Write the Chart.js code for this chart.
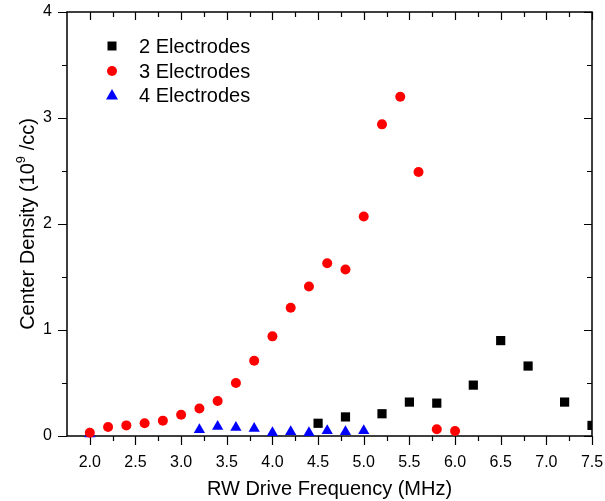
<!DOCTYPE html>
<html>
<head>
<meta charset="UTF-8">
<title>Center density vs RW drive frequency</title>
<script src="https://cdn.jsdelivr.net/npm/chart.js@4.4.1/dist/chart.umd.min.js"></script>
<style>
    body { margin: 0; background: #fff; }
    canvas { display: block; }
</style>
</head>
<body>
<canvas id="densityCanvas" width="605" height="501"></canvas>
<script>
// 2 electrodes
var freq2 = [4.5, 4.8, 5.2, 5.5, 5.8, 6.2, 6.5, 6.8, 7.2, 7.5];
var dens2 = [0.12, 0.18, 0.21, 0.32, 0.31, 0.48, 0.90, 0.66, 0.32, 0.10];
// 3 electrodes
var freq3 = [2.0, 2.2, 2.4, 2.6, 2.8, 3.0, 3.2, 3.4, 3.6, 3.8, 4.0, 4.2, 4.4, 4.6, 4.8, 5.0, 5.2, 5.4, 5.6, 5.8, 6.0];
var dens3 = [0.03, 0.085, 0.10, 0.12, 0.145, 0.20, 0.26, 0.33, 0.50, 0.71, 0.94, 1.21, 1.41, 1.63, 1.57, 2.07, 2.94, 3.20, 2.49, 0.063, 0.047];
// 4 electrodes
var freq4 = [2.0, 3.2, 3.4, 3.6, 3.8, 4.0, 4.2, 4.4, 4.6, 4.8, 5.0];
var dens4 = [0.02, 0.06, 0.09, 0.08, 0.07, 0.03, 0.04, 0.03, 0.05, 0.04, 0.05];

var seriesNames = ['2 Electrodes', '3 Electrodes', '4 Electrodes'];
var xTicks = [2.0, 2.5, 3.0, 3.5, 4.0, 4.5, 5.0, 5.5, 6.0, 6.5, 7.0, 7.5];
var yTicks = [0, 1, 2, 3, 4];

var FONT = 'Arial, "Liberation Sans", sans-serif';

function points(xs, ys) {
    return xs.map(function (x, i) { return { x: x, y: ys[i] }; });
}

// box around the plot with Origin-style tick marks on all four sides
var framePlugin = {
    id: 'frame',
    beforeDatasetsDraw: function (chart) {
        var ctx = chart.ctx, a = chart.chartArea;
        var xs = chart.scales.x, ys = chart.scales.y;
        ctx.save();
        ctx.strokeStyle = '#000';
        ctx.lineWidth = 1.5;
        ctx.strokeRect(a.left, a.top, a.right - a.left, a.bottom - a.top);
        ctx.lineWidth = 1.2;
        ctx.beginPath();
        for (var v = 2.0; v <= 7.5001; v += 0.25) {
            var px = Math.round(xs.getPixelForValue(v)) + 0.5;
            var major = Math.abs(v * 2 - Math.round(v * 2)) < 1e-6;
            var out = major ? 9 : 5, inn = major ? 8 : 5;
            ctx.moveTo(px, a.bottom); ctx.lineTo(px, a.bottom + out);
            ctx.moveTo(px, a.top); ctx.lineTo(px, a.top + inn);
        }
        for (var w = 0; w <= 4.0001; w += 0.5) {
            var py = Math.round(ys.getPixelForValue(w)) + 0.5;
            var maj = Math.abs(w - Math.round(w)) < 1e-6;
            ctx.moveTo(a.left, py); ctx.lineTo(a.left - (maj ? 9 : 5), py);
            ctx.moveTo(a.right, py); ctx.lineTo(a.right - (maj ? 8 : 5), py);
        }
        ctx.stroke();
        ctx.restore();
    },
    afterDraw: function (chart) {
        var ctx = chart.ctx, a = chart.chartArea;
        ctx.save();
        ctx.fillStyle = '#000';

        // x axis title
        ctx.font = '20px ' + FONT;
        ctx.textAlign = 'center';
        ctx.textBaseline = 'middle';
        ctx.fillText('RW Drive Frequency (MHz)', (a.left + a.right) / 2, 489);

        // y axis title with superscript exponent
        var p1 = 'Center Density (10', sup = '9', p2 = ' /cc)';
        ctx.translate(28, (a.top + a.bottom) / 2);
        ctx.rotate(-Math.PI / 2);
        ctx.textAlign = 'left';
        ctx.font = '20px ' + FONT;
        var w1 = ctx.measureText(p1).width, w3 = ctx.measureText(p2).width;
        ctx.font = '13px ' + FONT;
        var w2 = ctx.measureText(sup).width;
        var x0 = -(w1 + w2 + w3) / 2;
        ctx.font = '20px ' + FONT;
        ctx.fillText(p1, x0, 0);
        ctx.font = '13px ' + FONT;
        ctx.fillText(sup, x0 + w1, -7);
        ctx.font = '20px ' + FONT;
        ctx.fillText(p2, x0 + w1 + w2, 0);
        ctx.restore();

        // legend inside the plot
        ctx.save();
        var rows = [46, 71, 95];
        ctx.font = '20px ' + FONT;
        ctx.textAlign = 'left';
        ctx.textBaseline = 'middle';
        chart.data.datasets.forEach(function (ds, i) {
            var mx = 112, my = rows[i];
            ctx.fillStyle = ds.backgroundColor;
            ctx.beginPath();
            if (ds.pointStyle === 'rect') {
                ctx.rect(mx - 4.5, my - 4.5, 9, 9);
            } else if (ds.pointStyle === 'circle') {
                ctx.arc(mx, my, 5, 0, Math.PI * 2);
            } else {
                ctx.moveTo(mx, my - 6);
                ctx.lineTo(mx + 6, my + 4.5);
                ctx.lineTo(mx - 6, my + 4.5);
                ctx.closePath();
            }
            ctx.fill();
            ctx.fillStyle = '#000';
            ctx.fillText(ds.label, 139, my + 1);
        });
        ctx.restore();
    }
};

var ctx = document.getElementById('densityCanvas').getContext('2d');
window.densityChart = new Chart(ctx, {
    type: 'scatter',
    data: {
        datasets: [{
            label: seriesNames[0],
            data: points(freq2, dens2),
            pointStyle: 'rect',
            pointRadius: 6.5,
            backgroundColor: '#000000',
            borderColor: '#000000',
            borderWidth: 0,
            clip: { left: 0, right: 0, top: 10, bottom: 10 }
        }, {
            label: seriesNames[1],
            data: points(freq3, dens3),
            pointStyle: 'circle',
            pointRadius: 5,
            backgroundColor: '#ff0000',
            borderColor: '#ff0000',
            borderWidth: 0,
            clip: { left: 0, right: 0, top: 10, bottom: 10 }
        }, {
            label: seriesNames[2],
            data: points(freq4, dens4),
            pointStyle: 'triangle',
            pointRadius: 6.5,
            backgroundColor: '#0000ff',
            borderColor: '#0000ff',
            borderWidth: 0,
            clip: { left: 0, right: 0, top: 10, bottom: 10 }
        }]
    },
    options: {
        responsive: false,
        animation: false,
        devicePixelRatio: 1,
        layout: { padding: { top: 12, right: 13, left: 0, bottom: 0 } },
        plugins: {
            legend: { display: false },
            tooltip: { enabled: false }
        },
        scales: {
            x: {
                type: 'linear',
                min: 1.75,
                max: 7.5,
                border: { display: false },
                grid: { display: false },
                afterBuildTicks: function (scale) {
                    scale.ticks = xTicks.map(function (v) { return { value: v }; });
                },
                afterFit: function (scale) {
                    scale.height = 65;
                    scale.paddingLeft = 0;
                    scale.paddingRight = 0;
                },
                ticks: {
                    autoSkip: false,
                    maxRotation: 0,
                    padding: 9,
                    color: '#000',
                    font: { family: FONT, size: 16 },
                    callback: function (v) { return Number(v).toFixed(1); }
                }
            },
            y: {
                type: 'linear',
                min: 0,
                max: 4,
                border: { display: false },
                grid: { display: false },
                afterBuildTicks: function (scale) {
                    scale.ticks = yTicks.map(function (v) { return { value: v }; });
                },
                afterFit: function (scale) {
                    scale.width = 67;
                    scale.paddingTop = 0;
                    scale.paddingBottom = 0;
                },
                ticks: {
                    padding: 7,
                    color: '#000',
                    font: { family: FONT, size: 16 },
                    callback: function (v) { return String(v); }
                }
            }
        }
    },
    plugins: [framePlugin]
});
</script>
</body>
</html>
